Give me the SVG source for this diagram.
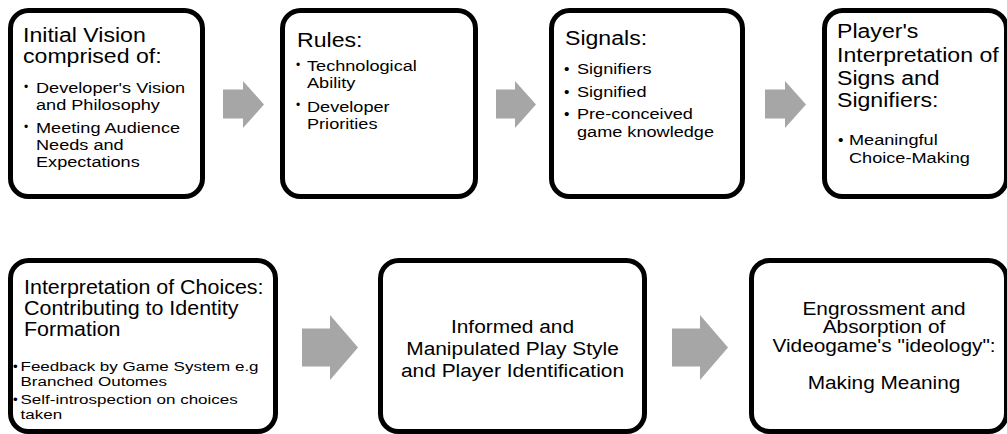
<svg xmlns="http://www.w3.org/2000/svg" width="1007" height="434" viewBox="0 0 1007 434">
<style>
.box{fill:#fff;stroke:#000;stroke-width:5}
.arr{fill:#a6a6a6}
text{font-family:"Liberation Sans",Arial,Helvetica,sans-serif;fill:#000}
.t{font-size:21px}
.b{font-size:15px}
.b3{font-size:15.5px}
.t5{font-size:19.5px}
.b5{font-size:13.5px}
.c{font-size:19px;text-anchor:middle}
.c7{font-size:17.5px;text-anchor:middle}
.rb{font-size:12px}
</style>
<g id="connectors">
<polygon class="arr" points="223,89.5 243,89.5 243,81 264,104.5 243,128 243,118.5 223,118.5"/>
<polygon class="arr" points="496,89.5 515,89.5 515,81 536,104.5 515,128 515,118.5 496,118.5"/>
<polygon class="arr" points="765,89.5 785,89.5 785,81 806,104.5 785,128 785,118.5 765,118.5"/>
<polygon class="arr" points="302,328.5 330,328.5 330,315 358,347.5 330,380 330,366.5 302,366.5"/>
<polygon class="arr" points="672,328.5 700,328.5 700,315 728,347.5 700,380 700,366.5 672,366.5"/>
</g>
<g id="node1">
<rect class="box" x="10.5" y="10.5" width="192" height="186" rx="18"/>
<text class="t" transform="translate(23 41.7) scale(1.1 1)">Initial Vision</text>
<text class="t" transform="translate(23 63.3) scale(1.1 1)">comprised of:</text>
<text class="rb" x="24" y="91">•</text>
<text class="b" transform="translate(36 93.3) scale(1.21 1)">Developer's Vision</text>
<text class="b" transform="translate(36 110) scale(1.21 1)">and Philosophy</text>
<text class="rb" x="24" y="131">•</text>
<text class="b" transform="translate(36 133.3) scale(1.21 1)">Meeting Audience</text>
<text class="b" transform="translate(36 150) scale(1.21 1)">Needs and</text>
<text class="b" transform="translate(36 166.7) scale(1.21 1)">Expectations</text>
</g>
<g id="node2">
<rect class="box" x="282.5" y="10.5" width="193" height="186" rx="18"/>
<text class="t" transform="translate(297 46.7) scale(1.1 1)">Rules:</text>
<text class="rb" x="296" y="69">•</text>
<text class="b" transform="translate(307 71) scale(1.21 1)">Technological</text>
<text class="b" transform="translate(307 88) scale(1.21 1)">Ability</text>
<text class="rb" x="296" y="109">•</text>
<text class="b" transform="translate(307 111.5) scale(1.21 1)">Developer</text>
<text class="b" transform="translate(307 128.5) scale(1.21 1)">Priorities</text>
</g>
<g id="node3">
<rect class="box" x="551.5" y="10.5" width="191" height="186" rx="18"/>
<text class="t" transform="translate(565 45) scale(1.1 1)">Signals:</text>
<text class="b3" x="564" y="74">•</text>
<text class="b3" transform="translate(577 74) scale(1.17 1)">Signifiers</text>
<text class="b3" x="564" y="96.7">•</text>
<text class="b3" transform="translate(577 96.7) scale(1.17 1)">Signified</text>
<text class="b3" x="564" y="119">•</text>
<text class="b3" transform="translate(577 119) scale(1.17 1)">Pre-conceived</text>
<text class="b3" transform="translate(577 137) scale(1.17 1)">game knowledge</text>
</g>
<g id="node4">
<rect class="box" x="824.5" y="10.5" width="182" height="186" rx="18"/>
<text class="t" transform="translate(837 38) scale(1.1 1)">Player's</text>
<text class="t" transform="translate(837 61.7) scale(1.1 1)">Interpretation of</text>
<text class="t" transform="translate(837 85) scale(1.1 1)">Signs and</text>
<text class="t" transform="translate(837 106.7) scale(1.1 1)">Signifiers:</text>
<text class="b3" x="838" y="145">•</text>
<text class="b3" transform="translate(849 145) scale(1.17 1)">Meaningful</text>
<text class="b3" transform="translate(849 163) scale(1.17 1)">Choice-Making</text>
</g>
<g id="node5">
<rect class="box" x="10.5" y="260.5" width="265" height="171" rx="18"/>
<text class="t5" transform="translate(24 294) scale(1.1 1)">Interpretation of Choices:</text>
<text class="t5" transform="translate(24 315) scale(1.1 1)">Contributing to Identity</text>
<text class="t5" transform="translate(24 335.5) scale(1.1 1)">Formation</text>
<text class="b5" x="13" y="371">•</text>
<text class="b5" transform="translate(20.5 371) scale(1.26 1)">Feedback by Game System e.g</text>
<text class="b5" transform="translate(20.5 386) scale(1.26 1)">Branched Outomes</text>
<text class="b5" x="13" y="404">•</text>
<text class="b5" transform="translate(20.5 404) scale(1.26 1)">Self-introspection on choices</text>
<text class="b5" transform="translate(20.5 419) scale(1.26 1)">taken</text>
</g>
<g id="node6">
<rect class="box" x="380.5" y="260.5" width="264" height="171" rx="18"/>
<text class="c" transform="translate(512.5 333) scale(1.1 1)">Informed and</text>
<text class="c" transform="translate(512.5 355) scale(1.1 1)">Manipulated Play Style</text>
<text class="c" transform="translate(512.5 377) scale(1.1 1)">and Player Identification</text>
</g>
<g id="node7">
<rect class="box" x="751.5" y="260.5" width="255" height="171" rx="18"/>
<text class="c7" transform="translate(884 314.5) scale(1.19 1)">Engrossment and</text>
<text class="c7" transform="translate(884 333) scale(1.19 1)">Absorption of</text>
<text class="c7" transform="translate(884 351.5) scale(1.19 1)">Videogame's "ideology":</text>
<text class="c7" transform="translate(884 388.5) scale(1.19 1)">Making Meaning</text>
</g>
</svg>
